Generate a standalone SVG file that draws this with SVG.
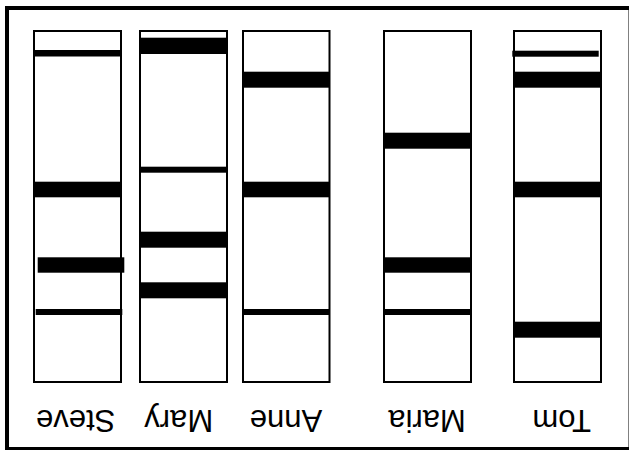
<svg xmlns="http://www.w3.org/2000/svg" width="629" height="450" viewBox="0 0 629 450">
<style>
.lane{fill:#fff;stroke:#000;stroke-width:2}
.band{fill:#000}
.lbl{font-family:"Liberation Sans",Arial,sans-serif;font-size:31px;fill:#000;text-anchor:middle}
</style>
<rect x="0" y="0" width="629" height="450" fill="#fff"/>
<rect id="frame" x="7" y="8" width="623.5" height="441" fill="none" stroke="#000" stroke-width="4"/>
<g id="steve">
<rect class="lane" x="34" y="31" width="87" height="351"/>
<rect class="band" x="34" y="50" width="87" height="6.5"/>
<rect class="band" x="34" y="181.7" width="87" height="15.6"/>
<rect class="band" x="37.7" y="257.3" width="86.6" height="15.4"/>
<rect class="band" x="35.7" y="309" width="86.6" height="6"/>
<text class="lbl" x="75.7" y="410" transform="rotate(180 75.7 410)">Steve</text>
</g>
<g id="mary">
<rect class="lane" x="140" y="31" width="87" height="351"/>
<rect class="band" x="140" y="37.7" width="87" height="16.3"/>
<rect class="band" x="140" y="166.7" width="87" height="6"/>
<rect class="band" x="140" y="231.7" width="87" height="16"/>
<rect class="band" x="140" y="282.3" width="87" height="16"/>
<text class="lbl" x="178.7" y="410" transform="rotate(180 178.7 410)">Mary</text>
</g>
<g id="anne">
<rect class="lane" x="243" y="31" width="86.5" height="351"/>
<rect class="band" x="243" y="71.7" width="86.5" height="16"/>
<rect class="band" x="243" y="181.7" width="86.5" height="15.6"/>
<rect class="band" x="243" y="309" width="86.5" height="6"/>
<text class="lbl" x="286" y="410" transform="rotate(180 286 410)">Anne</text>
</g>
<g id="maria">
<rect class="lane" x="384" y="31" width="87" height="351"/>
<rect class="band" x="384" y="132.7" width="87" height="16"/>
<rect class="band" x="384" y="257.3" width="87" height="15.4"/>
<rect class="band" x="384" y="309" width="87" height="6"/>
<text class="lbl" x="427" y="410" transform="rotate(180 427 410)">Maria</text>
</g>
<g id="tom">
<rect class="lane" x="514" y="31" width="87" height="351"/>
<rect class="band" x="512.3" y="50.7" width="86.4" height="6"/>
<rect class="band" x="514" y="71.7" width="87" height="16"/>
<rect class="band" x="514" y="181.7" width="87" height="15.6"/>
<rect class="band" x="514" y="321.7" width="87" height="16"/>
<text class="lbl" x="561.7" y="410" transform="rotate(180 561.7 410)">Tom</text>
</g>
</svg>
